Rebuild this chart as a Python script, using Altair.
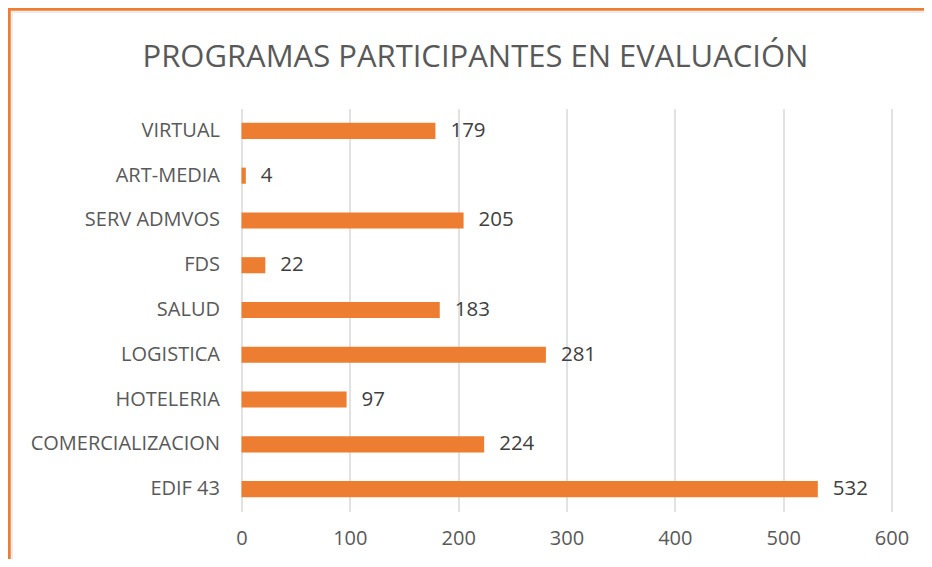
import altair as alt
import pandas as pd

categories = ["VIRTUAL", "ART-MEDIA", "SERV ADMVOS", "FDS", "SALUD",
              "LOGISTICA", "HOTELERIA", "COMERCIALIZACION", "EDIF 43"]
values = [179, 4, 205, 22, 183, 281, 97, 224, 532]
x_ticks = [0, 100, 200, 300, 400, 500, 600]
title_text = "PROGRAMAS PARTICIPANTES EN EVALUACIÓN"

df = pd.DataFrame({"programa": categories, "valor": values})

ORANGE = "#ED7D31"
FONT = "Open Sans"

y_enc = alt.Y("programa:N", sort=None, title=None,
              scale=alt.Scale(paddingInner=0.64, paddingOuter=0.32),
              axis=alt.Axis(domain=False, ticks=False, labelPadding=22,
                            labelLimit=400,
                            labelFont=FONT, labelFontSize=20,
                            labelColor="#595959"))
x_enc = alt.X("valor:Q", title=None,
              scale=alt.Scale(domain=[0, 600], nice=False),
              axis=alt.Axis(values=x_ticks, domain=False, ticks=False,
                            grid=True, gridColor="#d9d9d9", gridWidth=1.5,
                            labelFlush=False, labelPadding=17,
                            labelFont=FONT, labelFontSize=20,
                            labelColor="#595959"))

base = alt.Chart(df)
bars = base.mark_bar(color=ORANGE).encode(y=y_enc, x=x_enc)
labels = base.mark_text(align="left", baseline="middle", dx=15,
                        font=FONT, fontSize=20.5, color="#404040").encode(
    y=alt.Y("programa:N", sort=None), x="valor:Q", text="valor:Q")

one = alt.Data(values=[{"t": title_text}])
title = alt.Chart(one).mark_text(align="center", baseline="alphabetic",
                                 font=FONT, fontSize=31, color="#595959").encode(
    x=alt.value(234), y=alt.value(-41.5), text="t:N")
inner = alt.Chart(one).mark_rect(fill="transparent", stroke="#d9d9d9",
                                 strokeWidth=1).encode(
    x=alt.value(-229.5), x2=alt.value(720), y=alt.value(-96.5), y2=alt.value(480))
frame = alt.Chart(one).mark_rect(fill="transparent", stroke=ORANGE,
                                 strokeWidth=3.5).encode(
    x=alt.value(-232.5), x2=alt.value(720), y=alt.value(-99.5), y2=alt.value(480))

chart = alt.layer(inner, frame, bars, labels, title).properties(
    width=650, height=403,
    autosize=alt.AutoSizeParams(type="none"),
    padding={"left": 233.5, "top": 100.5, "right": 32, "bottom": 47},
    background="white",
).configure_view(stroke=None)

chart.save("out.html", embed_options={"renderer": "svg", "actions": False})
